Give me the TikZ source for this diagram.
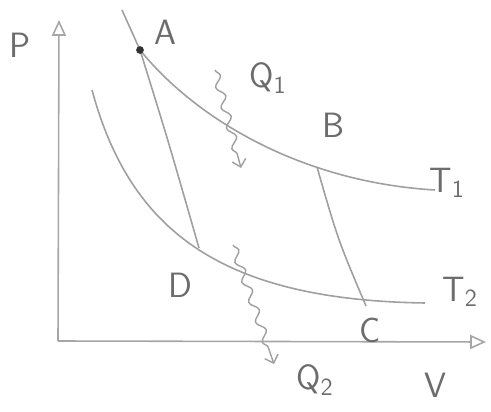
\documentclass[tikz,border=0pt]{standalone}
\usepackage{tikz}
\usetikzlibrary{arrows.meta, decorations.pathmorphing}
\tikzset{
  curve/.style={draw=gray!75, line width=0.9pt},
  axis/.style={draw=gray!70, line width=0.9pt, -{Triangle[open, length=9pt, width=8pt]}},
  flow/.style={draw=gray!75, line width=0.8pt,
    decorate, decoration={snake, amplitude=2.2pt, segment length=12pt, post length=6pt},
    -{Straight Barb[length=4pt]}},
  lbl/.style={text=gray!85!black, font=\sffamily\fontsize{20}{24}\selectfont, inner sep=0pt},
}

\begin{document}
\begin{tikzpicture}[x=0.02cm, y=-0.02cm]
  \useasboundingbox (0,0) rectangle (491,412);

  % axes
  \coordinate (origin) at (58,341);
  \coordinate (ptop) at (59,20);
  \coordinate (vend) at (486,342);
  \draw[axis] (origin) -- (ptop);
  \draw[axis] (origin) -- (vend);

  % cycle corners
  \coordinate (top) at (122,10);
  \coordinate (A) at (140,50);
  \coordinate (B) at (317,167);
  \coordinate (C) at (366,306);
  \coordinate (D) at (199,248);
  \coordinate (t1end) at (435,190);
  \coordinate (t2start) at (92,90);
  \coordinate (t2end) at (425,303);

  % isotherms
  \draw[curve] (A) .. controls (195,118) and (300,182) .. (t1end);
  \draw[curve] (t2start) .. controls (130,230) and (220,300) .. (t2end);

  % adiabats
  \draw[curve] (top) -- (A) .. controls (168,140) .. (D);
  \draw[curve] (B) .. controls (338,240) .. (C);
  \fill[gray!40!black] (A) circle (2.2pt);

  % heat flows
  \coordinate (q1a) at (215,70);
  \coordinate (q1b) at (241,168);
  \coordinate (q2a) at (233,245);
  \coordinate (q2b) at (274,364);
  \draw[flow] (q1a) -- (q1b);
  \draw[flow] (q2a) -- (q2b);

  % labels
  \node[lbl] (labP)  at (20,45)  {P};
  \node[lbl] (labA)  at (165,32) {A};
  \node[lbl] (labQ1) at (268,78) {Q\textsubscript{1}};
  \node[lbl] (labB)  at (333,125) {B};
  \node[lbl] (labT1) at (447,183) {T\textsubscript{1}};
  \node[lbl] (labD)  at (180,285) {D};
  \node[lbl] (labT2) at (460,292) {T\textsubscript{2}};
  \node[lbl] (labC)  at (370,330) {C};
  \node[lbl] (labQ2) at (315,380) {Q\textsubscript{2}};
  \node[lbl] (labV)  at (435,385) {V};
\end{tikzpicture}
\end{document}
